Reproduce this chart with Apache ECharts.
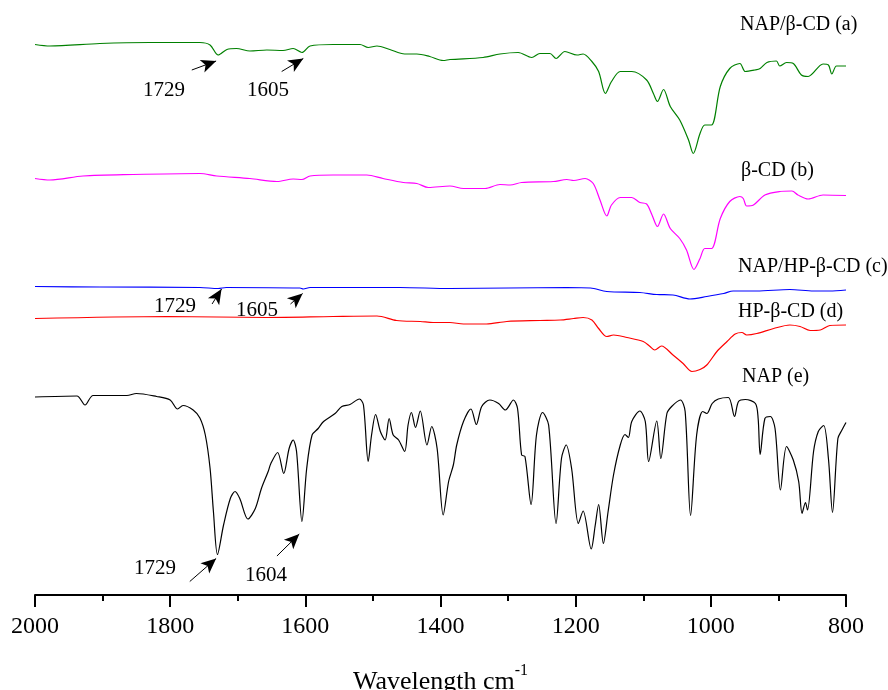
<!DOCTYPE html>
<html>
<head>
<meta charset="utf-8">
<script src="https://cdn.jsdelivr.net/npm/echarts@6/dist/echarts.min.js"></script>
<style>
  html, body { margin: 0; padding: 0; background: #fff; }
  #main { width: 888px; height: 690px; }
</style>
</head>
<body>
<div id="main"></div>
<script>
// FTIR spectra, [wavenumber cm-1, transmittance (a.u., offset per trace)]
const napBcd = [
  [2000,110.1],[1978,109.8],[1904,110.3],[1830,110.5],[1756,110.5],[1741,110.0],[1729,108.0],[1716,109.1],
  [1702,109.3],[1682,108.8],[1657,109.0],[1633,108.9],[1618,109.3],[1605,108.5],[1593,109.8],[1559,110.1],
  [1519,110.1],[1507,109.5],[1494,109.8],[1475,109.1],[1453,108.2],[1435,108.2],[1416,107.7],[1396,106.9],
  [1386,107.1],[1337,107.5],[1312,108.2],[1285,108.5],[1265,107.5],[1253,108.3],[1238,108.3],[1229,107.3],
  [1216,108.7],[1198,108.0],[1189,108.2],[1176,106.7],[1166,104.7],[1156,100.3],[1147,102.7],[1134,104.7],
  [1117,104.7],[1095,103.0],[1085,100.3],[1079,98.7],[1070,101.1],[1060,97.7],[1046,95.0],[1033,91.0],
  [1026,88.3],[1016,92.3],[1009,94.0],[999,94.0],[986,101.7],[972,105.3],[957,106.3],[949,104.7],
  [935,105.0],[927,105.3],[917,106.5],[903,106.8],[898,105.8],[888,106.5],[878,106.3],[866,104.0],
  [856,103.7],[834,106.2],[826,106.0],[821,104.2],[814,105.8],[800,105.8]
];
const bcd = [
  [2000,83.3],[1978,83.0],[1929,83.8],[1855,84.1],[1756,84.3],[1731,83.8],[1682,83.3],[1642,82.7],
  [1618,83.2],[1605,83.1],[1593,83.8],[1559,84.0],[1509,84.0],[1485,83.3],[1455,82.5],[1435,82.3],
  [1418,81.5],[1386,81.8],[1366,81.3],[1334,81.3],[1312,82.1],[1297,82.0],[1280,82.5],[1233,82.7],
  [1213,83.1],[1203,82.9],[1186,83.3],[1174,82.3],[1164,79.0],[1154,75.8],[1147,78.0],[1134,79.5],
  [1117,79.5],[1105,78.5],[1095,78.2],[1087,76.0],[1079,73.7],[1070,76.2],[1060,73.3],[1046,71.3],
  [1036,69.0],[1025,65.1],[1016,67.3],[1009,69.3],[999,69.3],[986,75.3],[972,78.7],[957,79.7],
  [952,79.3],[947,77.8],[937,78.0],[920,80.0],[898,80.7],[880,80.8],[871,80.0],[856,79.2],
  [834,80.0],[800,79.9]
];
const napHpbcd = [
  [2000,61.7],[1904,61.6],[1756,61.5],[1729,61.3],[1717,61.5],[1608,61.4],[1603,61.2],[1593,61.5],
  [1460,61.5],[1386,61.3],[1213,61.5],[1178,61.4],[1154,60.7],[1105,60.5],[1080,60.1],[1056,60.0],
  [1031,59.2],[1006,59.7],[981,60.3],[967,60.8],[932,60.8],[883,61.1],[848,60.8],[824,60.8],[800,61.0]
];
const hpbcd = [
  [2000,55.3],[1805,55.7],[1657,55.5],[1559,55.7],[1494,55.8],[1465,54.9],[1430,54.7],[1411,54.5],
  [1386,54.5],[1366,54.2],[1332,54.2],[1302,54.7],[1253,54.9],[1223,55.0],[1203,55.3],[1189,55.5],
  [1176,55.0],[1166,53.3],[1154,51.7],[1144,52.0],[1124,51.5],[1100,50.7],[1090,49.7],[1083,49.0],
  [1073,49.8],[1056,48.0],[1041,46.3],[1028,44.7],[1016,45.1],[1006,46.0],[991,48.7],[976,50.7],
  [964,52.2],[954,52.5],[947,52.0],[932,52.3],[907,53.3],[883,54.0],[868,53.7],[853,52.9],
  [838,53.0],[824,53.9],[800,54.0]
];
const nap = [
  [2000,39.6],[1938,39.8],[1926,38.0],[1914,39.9],[1864,39.9],[1850,40.3],[1820,39.7],[1800,39.0],
  [1789,37.2],[1781,37.9],[1766,37.0],[1756,35.4],[1748,32.0],[1741,25.4],[1736,16.7],[1730,8.1],
  [1721,14.0],[1711,19.3],[1704,20.7],[1697,19.3],[1685,15.2],[1674,17.3],[1665,21.3],[1655,24.7],
  [1651,26.3],[1641,28.5],[1632,24.3],[1624,29.3],[1618,31.0],[1613,28.7],[1605,14.7],[1598,25.3],
  [1590,32.0],[1581,33.3],[1573,34.7],[1556,36.3],[1546,37.7],[1534,38.1],[1520,39.2],[1514,38.0],
  [1507,26.7],[1502,32.0],[1496,36.1],[1489,32.7],[1482,31.0],[1476,35.3],[1470,32.0],[1462,31.0],
  [1453,28.7],[1448,34.0],[1443,36.5],[1437,33.5],[1430,36.8],[1420,30.0],[1413,33.7],[1405,29.3],
  [1396,16.0],[1388,22.7],[1381,26.0],[1376,30.0],[1366,34.7],[1355,37.2],[1347,34.1],[1339,37.7],
  [1327,39.0],[1314,38.3],[1304,37.0],[1292,39.0],[1286,37.3],[1280,28.0],[1275,27.7],[1266,18.1],
  [1258,32.0],[1249,36.5],[1240,34.0],[1229,14.3],[1221,27.3],[1214,30.0],[1206,25.3],[1196,14.3],
  [1189,16.8],[1177,9.2],[1171,14.0],[1166,18.1],[1159,10.3],[1152,16.7],[1144,24.0],[1134,30.0],
  [1127,32.1],[1122,31.5],[1117,34.7],[1105,36.8],[1097,34.7],[1092,26.7],[1080,34.8],[1074,27.3],
  [1065,36.3],[1058,37.7],[1045,39.0],[1038,36.7],[1030,15.9],[1021,32.0],[1012,36.7],[1006,36.3],
  [998,38.3],[989,39.2],[974,39.5],[965,35.7],[959,38.7],[949,39.1],[934,38.3],[930,35.3],
  [927,28.1],[920,35.3],[912,35.7],[905,33.3],[897,21.0],[888,29.7],[878,27.0],[870,22.7],
  [865,16.3],[860,18.5],[857,17.0],[848,28.7],[841,32.7],[833,33.9],[826,27.3],[820,16.5],
  [812,31.3],[806,33.0],[800,34.5]
];

const xTicks = [2000, 1800, 1600, 1400, 1200, 1000, 800];

// arrows: [fromW, fromT, toW, toT]
const arrowsA = [[1768,105.0,1732,106.8],[1635,104.7,1603,107.3]];
const arrowsC = [[1738,58.2,1724,61.2],[1622,58.2,1604,60.3]];
const arrowsE = [[1771,2.7,1732,7.3],[1642,7.8,1609,12.2]];

const serif = '"Liberation Serif", "DejaVu Serif", serif';

const myChart = echarts.init(document.getElementById('main'), null, { renderer: 'canvas' });

const arrowLine = (list) => ({
  silent: true,
  symbol: ['none', 'arrow'],
  symbolSize: [10, 15],
  lineStyle: { color: '#000', width: 1, type: 'solid' },
  label: { show: false },
  emphasis: { disabled: true },
  data: list.map((a) => [{ coord: [a[0], a[1]] }, { coord: [a[2], a[3]] }])
});

const mkSeries = (name, data, color, arrows) => {
  const s = {
    name: name,
    type: 'line',
    data: data,
    showSymbol: false,
    smooth: 0.3,
    lineStyle: { color: color, width: 1.2 },
    itemStyle: { color: color },
    clip: false
  };
  if (arrows) s.markLine = arrowLine(arrows);
  return s;
};

const txt = (text, x, y, size, align) => ({
  type: 'text',
  x: x,
  y: y,
  silent: true,
  style: {
    text: text,
    fill: '#000',
    font: size + 'px ' + serif,
    align: align || 'left',
    verticalAlign: 'middle'
  }
});

const option = {
  animation: false,
  backgroundColor: '#fff',
  grid: { left: 35, right: 42, top: 20, bottom: 95, containLabel: false, outerBoundsMode: 'none' },
  xAxis: {
    type: 'value',
    inverse: true,
    min: 800,
    max: 2000,
    interval: 200,
    axisLine: { show: true, onZero: false, lineStyle: { color: '#000', width: 2 } },
    axisTick: { show: true, inside: false, length: 12, lineStyle: { color: '#000', width: 2 } },
    minorTick: { show: true, splitNumber: 2, length: 6, lineStyle: { color: '#000', width: 2 } },
    splitLine: { show: false },
    axisLabel: {
      color: '#000', fontFamily: serif, fontSize: 24, margin: 20,
      formatter: (v) => (xTicks.indexOf(v) >= 0 ? String(v) : '')
    },
    name: '{a|Wavelength cm}{b|-1}',
    nameLocation: 'middle',
    nameGap: 68,
    nameTextStyle: {
      rich: {
        a: { fontFamily: serif, fontSize: 26, color: '#000' },
        b: { fontFamily: serif, fontSize: 16, color: '#000', padding: [0, 0, 22, 0] }
      }
    }
  },
  yAxis: { type: 'value', min: 0, max: 115, show: false },
  series: [
    mkSeries('NAP/β-CD (a)', napBcd, '#008000', arrowsA),
    mkSeries('β-CD (b)', bcd, '#ff00ff'),
    mkSeries('NAP/HP-β-CD (c)', napHpbcd, '#0000ff', arrowsC),
    mkSeries('HP-β-CD (d)', hpbcd, '#ff0000'),
    mkSeries('NAP (e)', nap, '#000000', arrowsE)
  ],
  graphic: [
    txt('NAP/β-CD (a)', 740, 25, 20),
    txt('β-CD (b)', 741, 171, 20),
    txt('NAP/HP-β-CD (c)', 738, 267, 20),
    txt('HP-β-CD (d)', 738, 312, 20),
    txt('NAP (e)', 742, 377, 20),
    txt('1729', 164, 90, 21, 'center'),
    txt('1605', 268, 90, 21, 'center'),
    txt('1729', 175, 306, 21, 'center'),
    txt('1605', 257, 310, 21, 'center'),
    txt('1729', 155, 568, 21, 'center'),
    txt('1604', 266, 575, 21, 'center')
  ]
};

myChart.setOption(option);
</script>
</body>
</html>
